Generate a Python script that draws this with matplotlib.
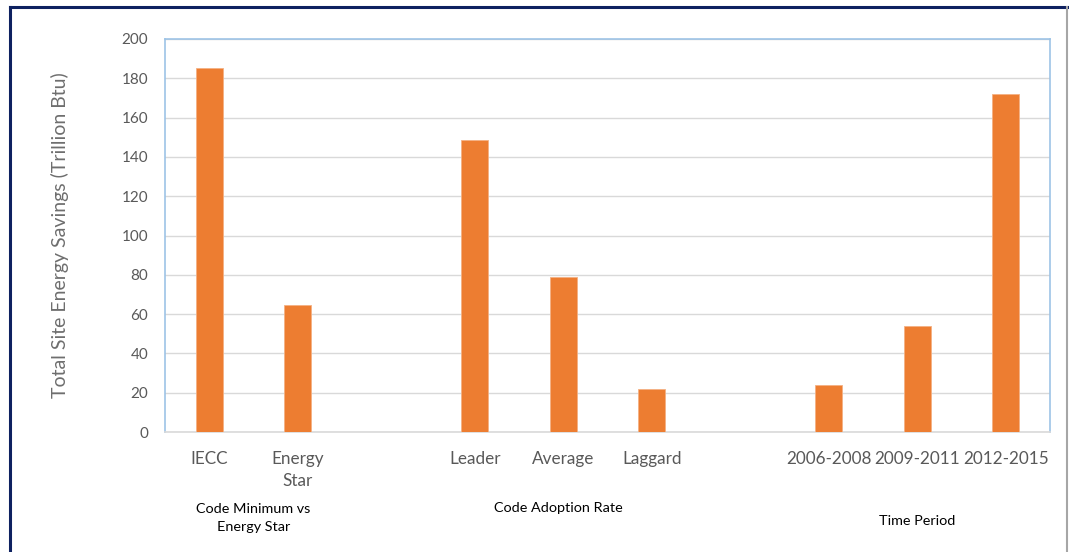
import matplotlib.pyplot as plt
from matplotlib.lines import Line2D

plt.rcParams['font.family'] = ['Lato', 'DejaVu Sans']

categories = ["IECC", "Energy\nStar", "", "Leader", "Average", "Laggard", "",
              "2006-2008", "2009-2011", "2012-2015"]
savings = [185, 64.5, None, 148.5, 79, 22, None, 24, 54, 172]
groups = ["Code Minimum vs\nEnergy Star", "Code Adoption Rate", "Time Period"]
group_x = [0.5, 3.95, 8]
group_y = [-0.18, -0.177, -0.212]

W, H = 1069, 552
fig = plt.figure(figsize=(W / 100, H / 100), dpi=100)
ax = fig.add_axes([165 / W, (H - 432) / H, 885 / W, 393 / H])

xs = [i for i, v in enumerate(savings) if v is not None]
vals = [v for v in savings if v is not None]
ax.bar(xs, vals, width=0.31, color="#ED7D31", edgecolor="#F4B183",
       linewidth=0.6, zorder=3)

ax.set_xlim(-0.5, len(categories) - 0.5)
ax.set_ylim(0, 200)
ax.set_yticks(range(0, 201, 20))
ax.set_xticks(range(len(categories)))
ax.set_xticklabels(categories, fontsize=12.3, color="#595959", linespacing=1.45)
ax.tick_params(axis="y", labelsize=11, colors="#595959", length=0, pad=12)
ax.tick_params(axis="x", length=0, pad=14)
ax.grid(axis="y", color="#D9D9D9", linewidth=1, zorder=0)

for side in ["left", "top", "right"]:
    ax.spines[side].set_color("#9DC3E6")
    ax.spines[side].set_linewidth(1.2)
ax.spines["bottom"].set_color("#D9D9D9")
ax.spines["bottom"].set_linewidth(1.2)

ax.set_ylabel("Total Site Energy Savings (Trillion Btu)", fontsize=14,
              color="#6E6E6E", labelpad=38)

for label, gx, gy in zip(groups, group_x, group_y):
    ax.text(gx, gy, label, transform=ax.get_xaxis_transform(), ha="center",
            va="top", fontsize=10.4, color="black", linespacing=1.65)

# outer frame
fig.add_artist(Line2D([10 / W, 1067 / W], [1 - 6.5 / H, 1 - 6.5 / H],
                      color="#0E2160", linewidth=2.2))
fig.add_artist(Line2D([10 / W, 10 / W], [0, 1 - 6.5 / H],
                      color="#0E2160", linewidth=2.2))
fig.add_artist(Line2D([1066.5 / W, 1066.5 / W], [0, 1 - 7 / H],
                      color="#A6A6A6", linewidth=1.5))

fig.savefig("out.png", dpi=100, facecolor="white")
